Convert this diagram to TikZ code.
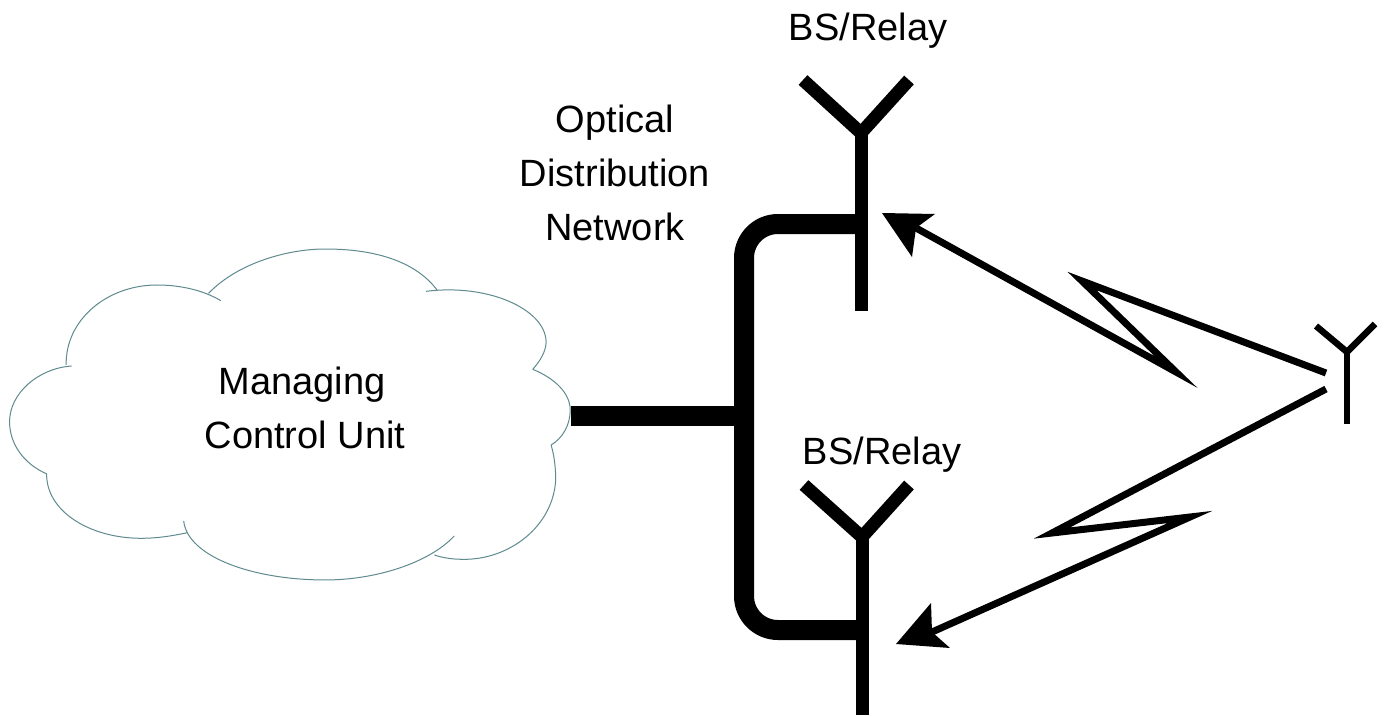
\documentclass[tikz,border=0pt]{standalone}
\usepackage{fontspec}
\setmainfont{Liberation Sans}
\definecolor{cloudline}{HTML}{5F8A8E}
\tikzset{
  bus/.style={line width=20pt,line cap=butt,line join=miter},
  bigant/.style={line width=13pt,line cap=butt,line join=miter,miter limit=20},
  smallant/.style={line width=6.5pt,line cap=butt,line join=miter,miter limit=20},
  radio/.style={line width=7pt,line cap=butt,line join=miter,miter limit=30},
  headfill/.style={fill=black,draw=none},
  cloudarc/.style={draw=cloudline,line width=1pt},
  label/.style={font=\fontsize{38}{38}\selectfont,anchor=base,inner sep=0pt}
}
\begin{document}
\begin{tikzpicture}[x=1pt,y=-1pt]
\useasboundingbox (0,0) rectangle (1384,715);
\fill[white] (0,0) rectangle (1384,715);
% cloud
\begin{scope}[shift={(0,230)},x=0.3827pt,y=-0.3333pt]
\draw[cloudarc] (545,190) .. controls (620,100) and (750,57) .. (850,57) .. controls (990,57) and (1090,100) .. (1142,180);
\draw[cloudarc] (1113,184) .. controls (1280,160) and (1425,240) .. (1427,335) .. controls (1427,365) and (1410,395) .. (1392,418);
\draw[cloudarc] (1392,418) .. controls (1450,445) and (1490,490) .. (1490,540) .. controls (1490,585) and (1470,625) .. (1440,645);
\draw[cloudarc] (1440,645) .. controls (1452,690) and (1452,740) .. (1452,750) .. controls (1445,890) and (1330,990) .. (1210,988) .. controls (1180,988) and (1155,983) .. (1135,975);
\draw[cloudarc] (1187,918) .. controls (1120,1000) and (980,1050) .. (850,1050) .. controls (660,1050) and (490,980) .. (480,873);
\draw[cloudarc] (490,908) .. controls (450,918) and (410,925) .. (370,925) .. controls (230,925) and (120,840) .. (122,732);
\draw[cloudarc] (122,732) .. controls (60,700) and (25,640) .. (25,575) .. controls (25,490) and (100,415) .. (187,408);
\draw[cloudarc] (173,405) .. controls (170,270) and (280,165) .. (410,165) .. controls (470,165) and (530,180) .. (577,212);
\end{scope}
% named points
\coordinate (cloudport) at (571,416);
\coordinate (busjoin) at (744,416);
\coordinate (tapTop) at (861,224);
\coordinate (tapBot) at (862,630);
\coordinate (a1J) at (861,133);
\coordinate (a1L) at (803,80);
\coordinate (a1R) at (909,80);
\coordinate (a1B) at (861,311);
\coordinate (a2J) at (862,537);
\coordinate (a2L) at (804,485);
\coordinate (a2R) at (909,485);
\coordinate (a2B) at (862,715);
\coordinate (uJ) at (1347,352);
\coordinate (uL) at (1316,326);
\coordinate (uR) at (1375,324);
\coordinate (uB) at (1347,424);
% bus
\draw[bus] (cloudport) -- (busjoin);
\draw[bus] (tapTop) -- (778,224) .. controls (759.2,224) and (744,239.2) .. (744,258) -- (744,596) .. controls (744,614.8) and (759.2,630) .. (778,630) -- (tapBot);
% antennas
\draw[bigant] (a1L) -- (a1J) -- (a1R);
\draw[bigant] (a1J) -- (a1B);
\draw[bigant] (a2L) -- (a2J) -- (a2R);
\draw[bigant] (a2J) -- (a2B);
\draw[smallant] (uL) -- (uJ) -- (uR);
\draw[smallant] (uJ) -- (uB);
% radio links
\coordinate (r1s) at (1326,373);
\coordinate (r1a) at (1082,281);
\coordinate (r1b) at (1176,372);
\coordinate (r1e) at (916,228);
\coordinate (r2s) at (1326,389);
\coordinate (r2a) at (1052,533);
\coordinate (r2b) at (1190,517);
\coordinate (r2e) at (932,632);
\draw[radio] (r1s) -- (r1a) -- (r1b) -- (r1e);
\draw[radio] (r2s) -- (r2a) -- (r2b) -- (r2e);
\fill[headfill] (882,213) -- (935,214) -- (r1e) -- (912,257) -- cycle;
\fill[headfill] (896,644) -- (931,603) -- (r2e) -- (950,648) -- cycle;
% text
\node[label] (t1) at (868,40) {BS/Relay};
\node[label] (t2) at (882,464) {BS/Relay};
\node[label] (t3) at (615,132) {Optical};
\node[label] (t4) at (615,186) {Distribution};
\node[label] (t5) at (615,240) {Network};
\node[label] (t6) at (302,394) {Managing};
\node[label] (t7) at (305,448) {Control Unit};
\end{tikzpicture}
\end{document}
